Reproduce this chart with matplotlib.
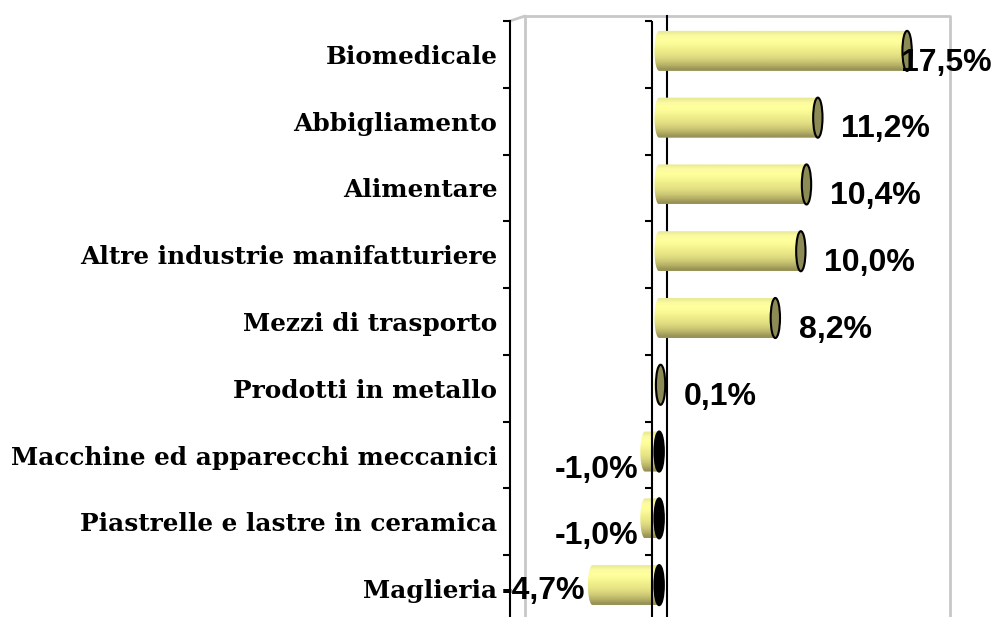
import numpy as np
import matplotlib
matplotlib.use("Agg")
import matplotlib.pyplot as plt
from matplotlib import font_manager as fm
from matplotlib.path import Path
from matplotlib.patches import PathPatch, Ellipse, ConnectionPatch
from matplotlib.transforms import ScaledTranslation
from matplotlib.markers import TICKLEFT

# data (top to bottom)
categories = ["Biomedicale", "Abbigliamento", "Alimentare",
              "Altre industrie manifatturiere", "Mezzi di trasporto",
              "Prodotti in metallo", "Macchine ed apparecchi meccanici",
              "Piastrelle e lastre in ceramica", "Maglieria"]
values = [17.5, 11.2, 10.4, 10.0, 8.2, 0.1, -1.0, -1.0, -4.7]
xmin, xmax = -10, 20

# Arial-like bold for the value labels (avoid the Narrow variant)
sans_bold = fm.FontProperties(family="DejaVu Sans", weight="bold", size=21)
for f in fm.fontManager.ttflist:
    if f.fname.endswith("LiberationSans-Bold.ttf"):
        sans_bold = fm.FontProperties(fname=f.fname, size=23)
        break

n = len(values)
W, H = 995, 617
fig = plt.figure(figsize=(W / 100, H / 100), dpi=100)
# front plane of the 3d chart: x from 510 to 935 px, rows from 21 to 622 px
ax = fig.add_axes([510 / W, (H - 622) / H, 425 / W, 601 / H])
ax.set_xlim(xmin, xmax)
ax.set_ylim(n - 0.5, -0.5)
ax.set_facecolor("none")

for s in ["top", "right", "bottom"]:
    ax.spines[s].set_visible(False)
ax.spines["left"].set_linewidth(1.5)
ax.set_xticks([])
bounds = np.arange(n + 1) - 0.5
ax.set_yticks(bounds)
ax.set_yticklabels([])
ax.tick_params(axis="y", which="major", direction="out", length=5, width=1.5)
ax.set_yticks(np.arange(n), minor=True)
ax.set_yticklabels(categories, minor=True, fontfamily="DejaVu Serif",
                   fontweight="bold", fontsize=17.8)
ax.tick_params(axis="y", which="minor", length=0, pad=9)

# depth offsets
back = ax.transData + ScaledTranslation(0.15, 0.05, fig.dpi_scale_trans)
mid = ax.transData + ScaledTranslation(0.075, 0.035, fig.dpi_scale_trans)

# back wall
grey = "#c8c8c8"
ax.plot([xmin, xmin, xmax, xmax], [n - 0.5, -0.5, -0.5, n - 0.5],
        color=grey, lw=2, transform=back, clip_on=False, zorder=1)
ax.add_artist(ConnectionPatch((xmin, -0.5), (xmin, -0.5), coordsA=ax.transData,
                              coordsB=back, color=grey, lw=2, zorder=1))
ax.plot([0, 0], [n - 0.5, -0.5], color="black", lw=1.5, transform=back,
        clip_on=False, zorder=1)

# cylinders
h = 0.3
rx = 0.33
grad = np.array([[235, 235, 150], [250, 250, 160], [255, 255, 158], [252, 252, 152],
                 [245, 245, 145], [238, 236, 138], [230, 228, 132], [218, 215, 125],
                 [202, 198, 115], [180, 175, 100], [152, 147, 86]]) / 255.0
img = grad[:, None, :]

for i, v in enumerate(values):
    a, b = min(0, v), max(0, v)
    t = np.linspace(np.pi / 2, 3 * np.pi / 2, 40)
    pts = np.column_stack([a + rx * np.cos(t), i + h * np.sin(t)])
    pts = np.vstack([pts, [[b, i - h], [b, i + h], [a, i + h]]])
    body = PathPatch(Path(pts, closed=True), fc="none", ec="none", transform=mid)
    ax.add_patch(body)
    im = ax.imshow(img, extent=(a - rx, b, i + h, i - h), origin="upper",
                   aspect="auto", interpolation="bilinear", transform=mid, zorder=2)
    im.set_clip_path(body)
    cap_fc = "#8c8a55" if v > 0 else "black"
    ax.add_patch(Ellipse((b, i), 2 * rx, 2 * h, fc=cap_fc, ec="black", lw=1.5,
                         transform=mid, zorder=3))

    txt = f"{v:.1f}%".replace(".", ",")
    if v > 0:
        dx = 17 if v < max(values) else -4.5
        ax.annotate(txt, (b, i), xycoords=mid, xytext=(dx, -8.5),
                    textcoords="offset points", ha="left", va="center",
                    fontproperties=sans_bold, zorder=5)
    else:
        dy = -13 if i < n - 1 else -4
        ax.annotate(txt, (a, i), xycoords=mid, xytext=(-5, dy),
                    textcoords="offset points", ha="right", va="center",
                    fontproperties=sans_bold, zorder=5)

ax.set_xlim(xmin, xmax)
ax.set_ylim(n - 0.5, -0.5)

# front zero line with ticks
ax.axvline(0, color="black", lw=1.5, zorder=4)
ax.plot(np.zeros(n + 1), bounds, ls="", marker=TICKLEFT, ms=5, mew=1.5,
        color="black", zorder=4, clip_on=False)

fig.savefig("out.png", dpi=100)
